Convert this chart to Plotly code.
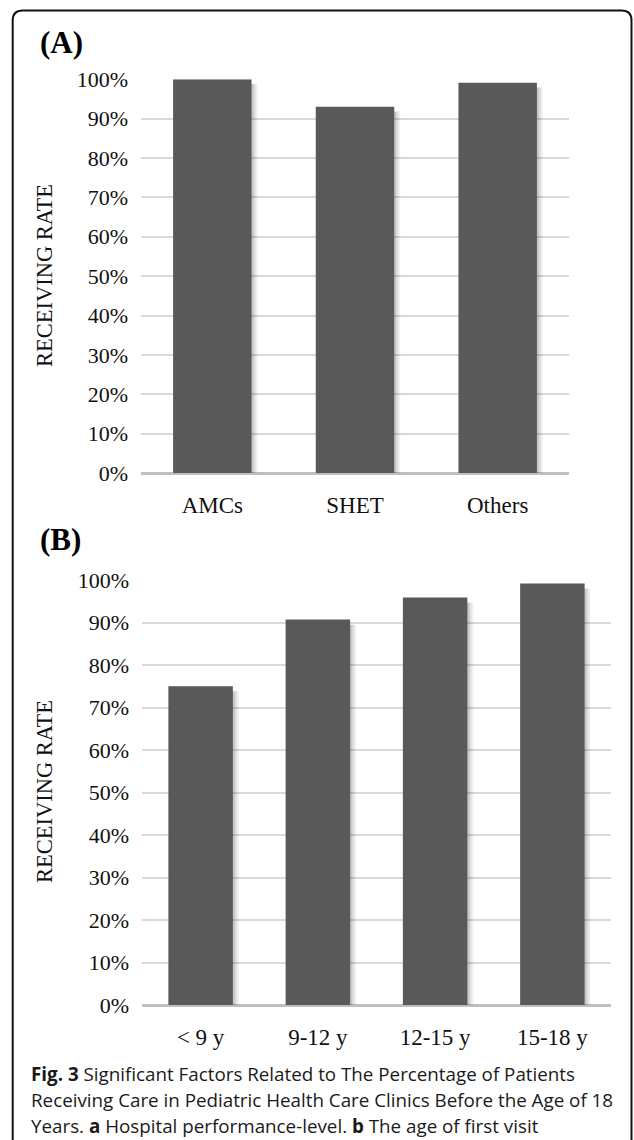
import plotly.graph_objects as go

W, H = 634, 1140

# ---- data ----
cats_a = ["AMCs", "SHET", "Others"]
vals_a = [1.00, 0.93, 0.991]
cats_b = ["< 9 y", "9-12 y", "12-15 y", "15-18 y"]
vals_b = [0.75, 0.907, 0.959, 0.992]
y_title = "RECEIVING RATE"
caption_lines = [
    "<b>Fig. 3</b> Significant Factors Related to The Percentage of Patients",
    "Receiving Care in Pediatric Health Care Clinics Before the Age of 18",
    "Years. <b>a</b> Hospital performance-level. <b>b</b> The age of first visit",
]


def px(x):
    return x / W


def py(y):
    return 1 - y / H


SERIF = "Liberation Serif, Times New Roman, serif"
BAR = "#595959"
BW = 0.55

fig = go.Figure()


def add_panel(cats, vals, xa, ya, cat_px):
    # soft drop shadow layers to the right of each bar
    for dx, a in [(2, 0.10), (4, 0.08), (6, 0.06)]:
        fig.add_trace(go.Bar(
            x=cats, y=[v - 0.012 for v in vals], base=0,
            width=BW, offset=-BW / 2 + dx / cat_px,
            marker=dict(color=f"rgba(0,0,0,{a})", line=dict(width=0)),
            xaxis=xa, yaxis=ya, hoverinfo="skip", showlegend=False))
    fig.add_trace(go.Bar(
        x=cats, y=vals, width=BW, offset=-BW / 2,
        marker=dict(color=BAR, line=dict(width=0)),
        xaxis=xa, yaxis=ya, showlegend=False))


add_panel(cats_a, vals_a, "x", "y", (569 - 141) / 3)
add_panel(cats_b, vals_b, "x2", "y2", (611 - 142) / 4)

yax = dict(range=[0, 1.0], dtick=0.1, tickformat=".0%",
           showgrid=True, gridcolor="#d9d9d9", gridwidth=1.5,
           zeroline=True, zerolinecolor="#bfbfbf", zerolinewidth=2.5,
           showline=False, ticks="", ticklabelstandoff=12, automargin=False,
           tickfont=dict(family=SERIF, size=22, color="#111"),
           fixedrange=True)
xax = dict(showgrid=False, zeroline=False, showline=False, ticks="",
           ticklabelstandoff=16, automargin=False,
           tickfont=dict(family=SERIF, size=23, color="#111"),
           fixedrange=True)

fig.update_layout(
    width=W, height=H,
    margin=dict(l=0, r=0, t=0, b=0, pad=0, autoexpand=False),
    paper_bgcolor="white", plot_bgcolor="white",
    barmode="overlay",
    xaxis=dict(**xax, domain=[px(141), px(569)], anchor="y", range=[-0.5, 2.5]),
    yaxis=dict(**yax, domain=[py(473), py(79.3)], anchor="x"),
    xaxis2=dict(**xax, domain=[px(142), px(611)], anchor="y2", range=[-0.5, 3.5]),
    yaxis2=dict(**yax, domain=[py(1005), py(580)], anchor="x2"),
)

ann = []
# panel labels
ann.append(dict(text="<b>(A)</b>", x=px(38), y=py(42), xref="paper", yref="paper",
                xanchor="left", yanchor="middle", showarrow=False,
                font=dict(family=SERIF, size=31, color="#000")))
ann.append(dict(text="<b>(B)</b>", x=px(38), y=py(540), xref="paper", yref="paper",
                xanchor="left", yanchor="middle", showarrow=False,
                font=dict(family=SERIF, size=31, color="#000")))
# y-axis titles
for yc in (276, 792):
    ann.append(dict(text=y_title, x=px(44), y=py(yc), xref="paper", yref="paper",
                    xanchor="center", yanchor="middle", textangle=-90, showarrow=False,
                    font=dict(family=SERIF, size=22.5, color="#111")))
# caption
for line, yc in zip(caption_lines, (1074, 1100, 1126)):
    ann.append(dict(text=line, x=px(29), y=py(yc), xref="paper", yref="paper",
                    xanchor="left", yanchor="middle", showarrow=False,
                    font=dict(family="Open Sans, Noto Sans, sans-serif", size=18.8, color="#1a1a1a")))
fig.update_layout(annotations=ann)

# frame (rounded corners, open at bottom)
L, T, R, B = 12.7, 10.5, 631.5, 1160
r = 10
path = (f"M {px(L)},{py(B)} L {px(L)},{py(T + r)} "
        f"Q {px(L)},{py(T)} {px(L + r)},{py(T)} "
        f"L {px(R - r)},{py(T)} "
        f"Q {px(R)},{py(T)} {px(R)},{py(T + r)} "
        f"L {px(R)},{py(B)}")
fig.add_shape(type="path", path=path, xref="paper", yref="paper",
              line=dict(color="#111", width=2))

# remove the default page margin so the figure fills the window exactly
fig.write_html("out.html",
               config={"displayModeBar": False},
               post_script="document.body.style.margin='0';"
                           "document.body.style.overflow='hidden';")
